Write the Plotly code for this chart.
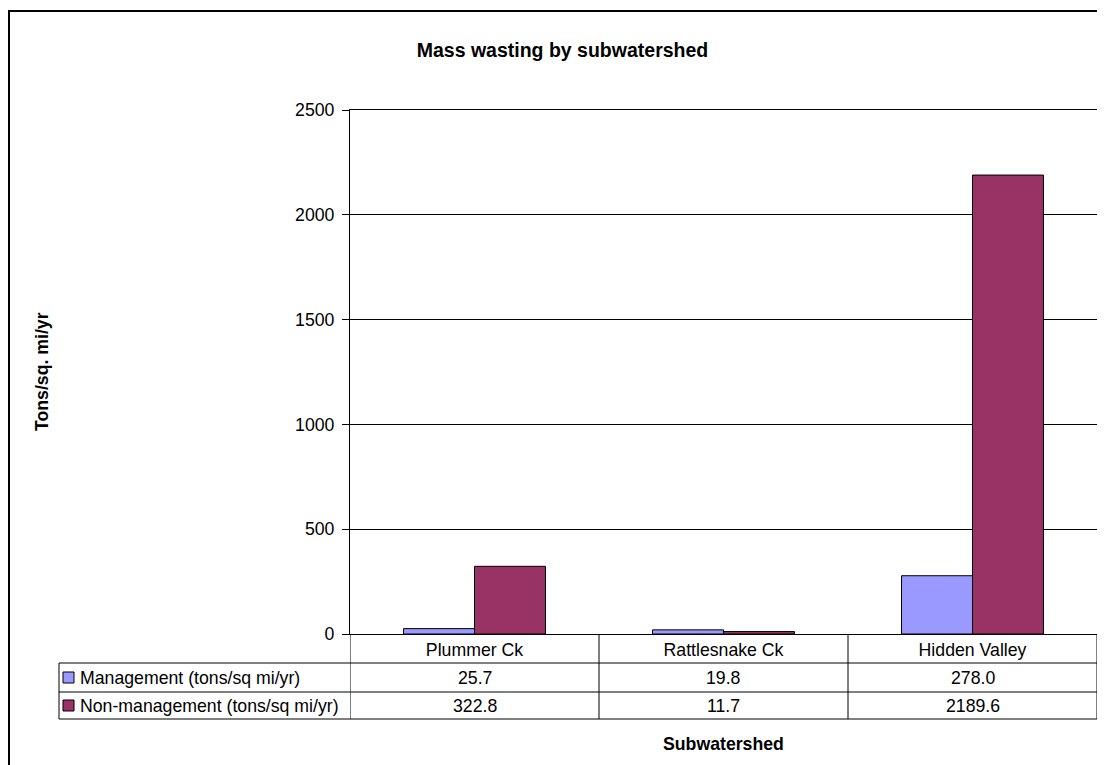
import plotly.graph_objects as go

# ---- data ----
categories = ["Plummer Ck", "Rattlesnake Ck", "Hidden Valley"]
series_names = ["Management (tons/sq mi/yr)", "Non-management (tons/sq mi/yr)"]
management = [25.7, 19.8, 278.0]
non_management = [322.8, 11.7, 2189.6]
y_ticks = [0, 500, 1000, 1500, 2000, 2500]
title_text = "Mass wasting by subwatershed"
x_title = "Subwatershed"
y_title = "Tons/sq. mi/yr"

colors = ["#9999FF", "#993366"]
FONT = "Liberation Sans, Arial, sans-serif"
FS = 17.7

# page body has an 8px margin; the figure is sized/positioned to compensate
O = 8
W, H = 1105 - O, 765 - O
L, R, T, B = 350, 1097, 110, 634  # plot area in page px


def px_x(x):
    return (x - L) / (R - L)


def px_y(y):
    return (B - y) / (B - T)


fig = go.Figure()
for name, vals, col in zip(series_names, [management, non_management], colors):
    fig.add_trace(go.Bar(
        x=categories, y=vals, name=name,
        marker=dict(color=col, line=dict(color="black", width=1)),
        showlegend=False,
    ))

shapes = []
annotations = []

# outer chart frame
shapes.append(dict(type="rect", xref="paper", yref="paper",
                   x0=px_x(9), x1=px_x(1115), y0=px_y(780), y1=px_y(11),
                   line=dict(color="black", width=2), layer="below"))

# data table horizontal lines
tbl_left = 59
row_lines = [663, 692, 719]
for yl in row_lines:
    shapes.append(dict(type="line", xref="paper", yref="paper",
                       x0=px_x(tbl_left), x1=1.0, y0=px_y(yl), y1=px_y(yl),
                       line=dict(color="black", width=1)))
# table left edge
shapes.append(dict(type="line", xref="paper", yref="paper",
                   x0=px_x(tbl_left), x1=px_x(tbl_left), y0=px_y(663), y1=px_y(719),
                   line=dict(color="black", width=1)))
# vertical category dividers (from axis scale)
for k in range(len(categories) + 1):
    shapes.append(dict(type="line", xref="x", yref="paper",
                       x0=k - 0.5, x1=k - 0.5, y0=0, y1=px_y(719),
                       line=dict(color="black", width=1)))

row_centers = [677.5, 705.5]
for name, vals, col, yc in zip(series_names, [management, non_management], colors, row_centers):
    # legend key square
    shapes.append(dict(type="rect", xref="paper", yref="paper",
                       x0=px_x(63), x1=px_x(74), y0=px_y(yc + 5.5), y1=px_y(yc - 5.5),
                       fillcolor=col, line=dict(color="black", width=1)))
    annotations.append(dict(text=name, xref="paper", yref="paper",
                            x=px_x(78), y=px_y(yc), xanchor="left", yanchor="middle",
                            showarrow=False, font=dict(family=FONT, size=FS, color="black")))
    for i, v in enumerate(vals):
        annotations.append(dict(text=f"{v:.1f}", xref="x", yref="paper",
                                x=i, y=px_y(yc), xanchor="center", yanchor="middle",
                                showarrow=False, font=dict(family=FONT, size=FS, color="black")))

# axis titles
annotations.append(dict(text=f"<b>{x_title}</b>", xref="paper", yref="paper",
                        x=px_x(723.5), y=px_y(744), xanchor="center", yanchor="middle",
                        showarrow=False, font=dict(family=FONT, size=FS, color="black")))
annotations.append(dict(text=f"<b>{y_title}</b>", xref="paper", yref="paper",
                        x=px_x(42), y=px_y(372), xanchor="center", yanchor="middle",
                        textangle=-90, showarrow=False,
                        font=dict(family=FONT, size=FS, color="black")))

fig.update_layout(
    width=W, height=H, autosize=False,
    margin=dict(l=L - O, r=W - (R - O), t=T - O, b=H - (B - O), pad=0),
    paper_bgcolor="white", plot_bgcolor="white",
    barmode="group", bargap=0.43, bargroupgap=0,
    title=dict(text=f"<b>{title_text}</b>", x=(562.5 - O) / W, y=1 - (50 - O) / H,
               xanchor="center", yanchor="middle", xref="container", yref="container",
               font=dict(family=FONT, size=19.5, color="black")),
    font=dict(family=FONT, size=FS, color="black"),
    shapes=shapes,
    annotations=annotations,
)
fig.update_xaxes(
    type="category", range=[-0.5, 2.5],
    showline=True, linecolor="black", linewidth=1, mirror=True,
    ticks="", showgrid=False, zeroline=False,
    tickfont=dict(family=FONT, size=FS, color="black"),
)
fig.update_yaxes(
    range=[0, 2500], tickvals=y_ticks, ticktext=[str(t) for t in y_ticks],
    showline=True, linecolor="black", linewidth=1, mirror=True,
    ticks="outside", ticklen=7, tickcolor="black",
    showgrid=True, gridcolor="black", gridwidth=1, zeroline=False,
    tickfont=dict(family=FONT, size=FS, color="black"),
    ticklabelstandoff=4,
)

fig.write_html("out.html")
